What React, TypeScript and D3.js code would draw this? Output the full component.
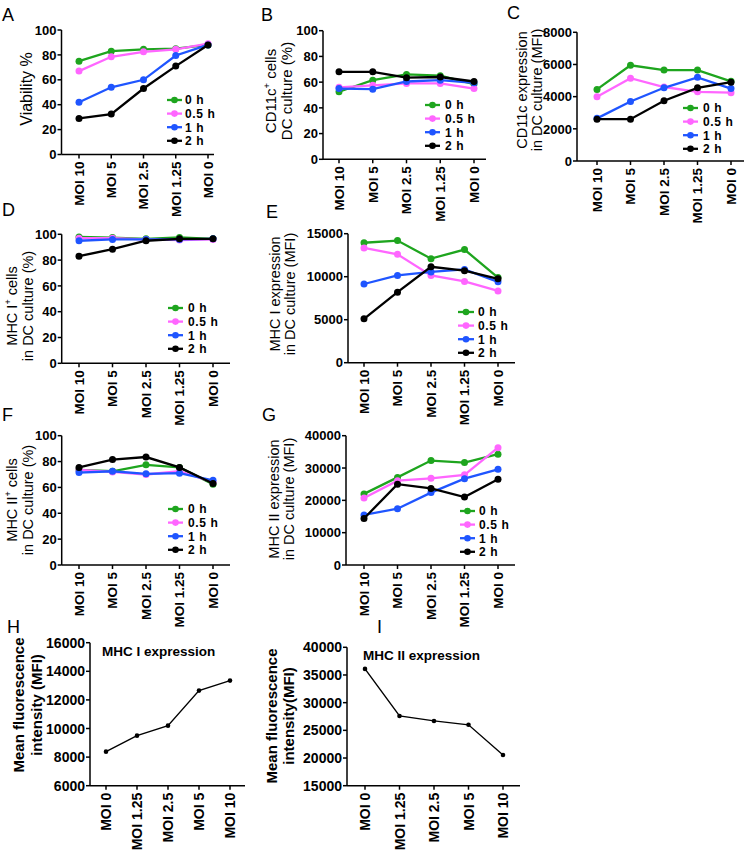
import React from "react";
import * as d3 from "d3";

// ---------- DATA ----------
const categories = ["MOI 10", "MOI 5", "MOI 2.5", "MOI 1.25", "MOI 0"];
const timeSeries = ["0 h", "0.5 h", "1 h", "2 h"];
const seriesColors = ["#1ea51e", "#ff66ff", "#1f55ff", "#000000"];

// A: Viability %
const viability0h = [75, 83, 84.5, 85, 88];
const viability05h = [67, 78.5, 82.5, 84.5, 89];
const viability1h = [42, 54, 60, 79.5, 88];
const viability2h = [29, 32.5, 53, 71, 88];

// B: CD11c+ cells (%)
const cd11cPct0h = [52.5, 61.5, 66, 65, 58.5];
const cd11cPct05h = [56, 57.5, 59, 59, 55];
const cd11cPct1h = [55, 54.5, 60.5, 61.5, 59.5];
const cd11cPct2h = [68, 68, 63.5, 64, 60.5];

// C: CD11c expression (MFI)
const cd11cMfi0h = [4450, 5950, 5650, 5650, 4950];
const cd11cMfi05h = [4000, 5150, 4600, 4300, 4250];
const cd11cMfi1h = [2650, 3700, 4550, 5200, 4500];
const cd11cMfi2h = [2600, 2600, 3750, 4550, 4900];

// D: MHC I+ cells (%)
const mhcIPct0h = [98, 97.5, 96.5, 97.5, 96.5];
const mhcIPct05h = [97, 97, 96, 95.5, 96];
const mhcIPct1h = [95, 96, 96, 96, 96.5];
const mhcIPct2h = [83, 88.5, 95, 96.5, 96.5];

// E: MHC I expression (MFI)
const mhcIMfi0h = [13950, 14200, 12100, 13150, 9900];
const mhcIMfi05h = [13350, 12600, 10150, 9450, 8350];
const mhcIMfi1h = [9150, 10150, 10550, 10850, 9400];
const mhcIMfi2h = [5100, 8200, 11150, 10700, 9750];

// F: MHC II+ cells (%)
const mhcIIPct0h = [73.5, 72.5, 77.5, 75.5, 62.5];
const mhcIIPct05h = [73.5, 72, 70, 72.5, 64];
const mhcIIPct1h = [71.5, 72.5, 70.5, 71, 65.5];
const mhcIIPct2h = [75.5, 81.5, 83.5, 75.5, 63];

// G: MHC II expression (MFI)
const mhcIIMfi0h = [22000, 27100, 32300, 31700, 34300];
const mhcIIMfi05h = [20700, 26100, 26800, 27900, 36300];
const mhcIIMfi1h = [15500, 17400, 22400, 26700, 29600];
const mhcIIMfi2h = [14400, 25000, 23700, 21000, 26500];

// H, I
const summaryCategories = ["MOI 0", "MOI 1.25", "MOI 2.5", "MOI 5", "MOI 10"];
const summaryMhcI = [8380, 9500, 10200, 12650, 13350];
const summaryMhcII = [36100, 27600, 26700, 26000, 20550];

const pctTicks = [0, 20, 40, 60, 80, 100];
const cd11cMfiTicks = [0, 2000, 4000, 6000, 8000];
const mhcIMfiTicks = [0, 5000, 10000, 15000];
const mhcIIMfiTicks = [0, 10000, 20000, 30000, 40000];
const summaryMhcITicks = [6000, 8000, 10000, 12000, 14000, 16000];
const summaryMhcIITicks = [15000, 20000, 25000, 30000, 35000, 40000];

// ---------- DRAWING ----------
const FONT = "'Liberation Sans', Arial, Helvetica, sans-serif";

type LabelLine = { text: string; sup?: string; rest?: string; x: number };

type GroupPanel = {
  letter: string;
  letterX: number;
  letterY: number;
  axisX: number;
  yTop: number;
  yBot: number;
  xFirst: number;
  xLast: number;
  xEnd: number;
  domain: [number, number];
  ticks: number[];
  series: number[][];
  labelLines: LabelLine[];
  labelCY: number;
  labelSize: number;
  legend: { x1: number; x2: number; tx: number; y0: number; step: number };
};

function RotLabel({ line, cy, size, weight }: { line: LabelLine; cy: number; size: number; weight: string }) {
  return (
    <text
      transform={`translate(${line.x},${cy}) rotate(-90)`}
      textAnchor="middle"
      dy="0.35em"
      fontSize={size}
      fontWeight={weight}
      fontFamily={FONT}
    >
      {line.sup ? (
        <>
          <tspan>{line.text}</tspan>
          <tspan fontSize={size * 0.62} dy={-size * 0.4}>{line.sup}</tspan>
          <tspan dy={size * 0.4}>{line.rest}</tspan>
        </>
      ) : (
        line.text
      )}
    </text>
  );
}

function XTickLabels({ xs, cats, y, size }: { xs: (c: string) => number; cats: string[]; y: number; size: number }) {
  return (
    <g>
      {cats.map((c) => (
        <g key={c}>
          <line x1={xs(c)} x2={xs(c)} y1={y} y2={y + 4} stroke="#000" strokeWidth={1.5} />
          <text
            transform={`translate(${xs(c)},${y + 7}) rotate(-90)`}
            textAnchor="end"
            dy="0.36em"
            fontSize={size}
            fontWeight="bold"
            fontFamily={FONT}
          >
            {c}
          </text>
        </g>
      ))}
    </g>
  );
}

function YAxis({ axisX, ys, ticks, top, bot, size }: { axisX: number; ys: d3.ScaleLinear<number, number>; ticks: number[]; top: number; bot: number; size: number }) {
  const fmt = d3.format("d");
  return (
    <g>
      <line x1={axisX} x2={axisX} y1={top} y2={bot} stroke="#000" strokeWidth={1.5} />
      {ticks.map((t) => (
        <g key={t}>
          <line x1={axisX - 4} x2={axisX} y1={ys(t)} y2={ys(t)} stroke="#000" strokeWidth={1.5} />
          <text
            x={axisX - 5}
            y={ys(t)}
            dy="0.36em"
            textAnchor="end"
            fontSize={size}
            fontWeight="bold"
            fontFamily={FONT}
          >
            {fmt(t)}
          </text>
        </g>
      ))}
    </g>
  );
}

function GroupChart({ p }: { p: GroupPanel }) {
  const xs = d3.scalePoint<string>().domain(categories).range([p.xFirst, p.xLast]);
  const ys = d3.scaleLinear().domain(p.domain).range([p.yBot, p.yTop]);
  const xsf = (c: string) => xs(c) as number;
  const line = d3
    .line<number>()
    .x((_, i) => xsf(categories[i]))
    .y((d) => ys(d));
  return (
    <g>
      <text x={p.letterX} y={p.letterY} fontSize={18} fontFamily={FONT}>
        {p.letter}
      </text>
      {p.labelLines.map((l, i) => (
        <RotLabel key={i} line={l} cy={p.labelCY} size={p.labelSize} weight="normal" />
      ))}
      <YAxis axisX={p.axisX} ys={ys} ticks={p.ticks} top={p.yTop} bot={p.yBot} size={13} />
      <line x1={p.axisX} x2={p.xEnd} y1={p.yBot} y2={p.yBot} stroke="#000" strokeWidth={1.5} />
      <XTickLabels xs={xsf} cats={categories} y={p.yBot} size={13.5} />
      {p.series.map((s, si) => (
        <g key={si}>
          <path d={line(s) as string} fill="none" stroke={seriesColors[si]} strokeWidth={2.3} />
          {s.map((v, i) => (
            <circle key={i} cx={xsf(categories[i])} cy={ys(v)} r={3.5} fill={seriesColors[si]} />
          ))}
        </g>
      ))}
      {timeSeries.map((name, i) => {
        const y = p.legend.y0 + i * p.legend.step;
        return (
          <g key={name}>
            <line x1={p.legend.x1} x2={p.legend.x2} y1={y} y2={y} stroke={seriesColors[i]} strokeWidth={2.3} />
            <circle cx={(p.legend.x1 + p.legend.x2) / 2} cy={y} r={3.3} fill={seriesColors[i]} />
            <text x={p.legend.tx} y={y} dy="0.36em" fontSize={12} fontWeight="bold" fontFamily={FONT} letterSpacing={0.6}>
              {name}
            </text>
          </g>
        );
      })}
    </g>
  );
}

type SinglePanel = {
  letter: string;
  letterX: number;
  letterY: number;
  title: string;
  titleX: number;
  titleY: number;
  axisX: number;
  yTop: number;
  yBot: number;
  xFirst: number;
  xLast: number;
  xEnd: number;
  domain: [number, number];
  ticks: number[];
  values: number[];
  labelLines: LabelLine[];
  labelCY: number;
};

function SingleChart({ p }: { p: SinglePanel }) {
  const xs = d3.scalePoint<string>().domain(summaryCategories).range([p.xFirst, p.xLast]);
  const ys = d3.scaleLinear().domain(p.domain).range([p.yBot, p.yTop]);
  const xsf = (c: string) => xs(c) as number;
  const line = d3
    .line<number>()
    .x((_, i) => xsf(summaryCategories[i]))
    .y((d) => ys(d));
  return (
    <g>
      <text x={p.letterX} y={p.letterY} fontSize={18} fontFamily={FONT}>
        {p.letter}
      </text>
      {p.labelLines.map((l, i) => (
        <RotLabel key={i} line={l} cy={p.labelCY} size={15} weight="bold" />
      ))}
      <text x={p.titleX} y={p.titleY} fontSize={13.5} fontWeight="bold" fontFamily={FONT}>
        {p.title}
      </text>
      <YAxis axisX={p.axisX} ys={ys} ticks={p.ticks} top={p.yTop} bot={p.yBot} size={14} />
      <line x1={p.axisX} x2={p.xEnd} y1={p.yBot} y2={p.yBot} stroke="#000" strokeWidth={1.5} />
      <XTickLabels xs={xsf} cats={summaryCategories} y={p.yBot} size={14} />
      <path d={line(p.values) as string} fill="none" stroke="#000" strokeWidth={1.4} />
      {p.values.map((v, i) => (
        <circle key={i} cx={xsf(summaryCategories[i])} cy={ys(v)} r={2.3} fill="#000" />
      ))}
    </g>
  );
}

const pct: [number, number] = [0, 100];

const groupPanels: GroupPanel[] = [
  {
    letter: "A", letterX: 2, letterY: 21,
    axisX: 61.5, yTop: 30, yBot: 154.5, xFirst: 79, xLast: 208, xEnd: 214,
    domain: pct, ticks: pctTicks,
    series: [viability0h, viability05h, viability1h, viability2h],
    labelLines: [{ text: "Viability %", x: 26 }], labelCY: 89, labelSize: 16,
    legend: { x1: 167, x2: 182, tx: 185, y0: 100, step: 13.6 },
  },
  {
    letter: "B", letterX: 261, letterY: 21,
    axisX: 323, yTop: 30.7, yBot: 159.3, xFirst: 339, xLast: 474, xEnd: 486,
    domain: pct, ticks: pctTicks,
    series: [cd11cPct0h, cd11cPct05h, cd11cPct1h, cd11cPct2h],
    labelLines: [
      { text: "CD11c", sup: "+", rest: " cells", x: 271 },
      { text: "DC culture (%)", x: 287 },
    ],
    labelCY: 91, labelSize: 15,
    legend: { x1: 425, x2: 440, tx: 445, y0: 105, step: 13.6 },
  },
  {
    letter: "C", letterX: 507, letterY: 19,
    axisX: 577, yTop: 32.3, yBot: 161, xFirst: 597, xLast: 731, xEnd: 744,
    domain: [0, 8000], ticks: cd11cMfiTicks,
    series: [cd11cMfi0h, cd11cMfi05h, cd11cMfi1h, cd11cMfi2h],
    labelLines: [
      { text: "CD11c expression", x: 522 },
      { text: "in DC culture (MFI)", x: 537 },
    ],
    labelCY: 90, labelSize: 14.5,
    legend: { x1: 683, x2: 698, tx: 703, y0: 108, step: 13.6 },
  },
  {
    letter: "D", letterX: 2, letterY: 216,
    axisX: 61.7, yTop: 234.3, yBot: 363.3, xFirst: 79, xLast: 213, xEnd: 230,
    domain: pct, ticks: pctTicks,
    series: [mhcIPct0h, mhcIPct05h, mhcIPct1h, mhcIPct2h],
    labelLines: [
      { text: "MHC I", sup: "+", rest: " cells", x: 12 },
      { text: "in DC culture (%)", x: 28 },
    ],
    labelCY: 306, labelSize: 14.5,
    legend: { x1: 168, x2: 183, tx: 188, y0: 308, step: 13.6 },
  },
  {
    letter: "E", letterX: 266, letterY: 218,
    axisX: 348, yTop: 233.7, yBot: 362.7, xFirst: 364, xLast: 498, xEnd: 515,
    domain: [0, 15000], ticks: mhcIMfiTicks,
    series: [mhcIMfi0h, mhcIMfi05h, mhcIMfi1h, mhcIMfi2h],
    labelLines: [
      { text: "MHC I expression", x: 275 },
      { text: "in DC culture (MFI)", x: 290 },
    ],
    labelCY: 294, labelSize: 14.5,
    legend: { x1: 458, x2: 474, tx: 478, y0: 312, step: 13.6 },
  },
  {
    letter: "F", letterX: 2, letterY: 421,
    axisX: 61.7, yTop: 435.7, yBot: 565, xFirst: 79, xLast: 213, xEnd: 230,
    domain: pct, ticks: pctTicks,
    series: [mhcIIPct0h, mhcIIPct05h, mhcIIPct1h, mhcIIPct2h],
    labelLines: [
      { text: "MHC II", sup: "+", rest: " cells", x: 12 },
      { text: "in DC culture (%)", x: 28 },
    ],
    labelCY: 500, labelSize: 14.5,
    legend: { x1: 168, x2: 183, tx: 188, y0: 509, step: 13.6 },
  },
  {
    letter: "G", letterX: 262, letterY: 421,
    axisX: 346, yTop: 435.7, yBot: 565, xFirst: 364, xLast: 498, xEnd: 515,
    domain: [0, 40000], ticks: mhcIIMfiTicks,
    series: [mhcIIMfi0h, mhcIIMfi05h, mhcIIMfi1h, mhcIIMfi2h],
    labelLines: [
      { text: "MHC II expression", x: 274 },
      { text: "in DC culture (MFI)", x: 289 },
    ],
    labelCY: 499, labelSize: 14.5,
    legend: { x1: 460, x2: 475, tx: 479, y0: 511, step: 13.6 },
  },
];

const singlePanels: SinglePanel[] = [
  {
    letter: "H", letterX: 7, letterY: 633,
    title: "MHC I expression", titleX: 102, titleY: 656,
    axisX: 90, yTop: 642.7, yBot: 785.7, xFirst: 106, xLast: 230, xEnd: 245,
    domain: [6000, 16000], ticks: summaryMhcITicks, values: summaryMhcI,
    labelLines: [
      { text: "Mean fluorescence", x: 19 },
      { text: "intensity (MFI)", x: 37 },
    ],
    labelCY: 705,
  },
  {
    letter: "I", letterX: 377, letterY: 633,
    title: "MHC II expression", titleX: 363, titleY: 660,
    axisX: 347, yTop: 647.3, yBot: 785.7, xFirst: 365, xLast: 503, xEnd: 520,
    domain: [15000, 40000], ticks: summaryMhcIITicks, values: summaryMhcII,
    labelLines: [
      { text: "Mean fluorescence", x: 272 },
      { text: "intensity(MFI)", x: 289 },
    ],
    labelCY: 716,
  },
];

export default function App() {
  return (
    <svg
      width={750}
      height={852}
      viewBox="0 0 750 852"
      style={{ position: "absolute", left: 0, top: 0, background: "#fff" }}
    >
      <rect x={0} y={0} width={750} height={852} fill="#fff" />
      {groupPanels.map((p) => (
        <GroupChart key={p.letter} p={p} />
      ))}
      {singlePanels.map((p) => (
        <SingleChart key={p.letter} p={p} />
      ))}
    </svg>
  );
}
